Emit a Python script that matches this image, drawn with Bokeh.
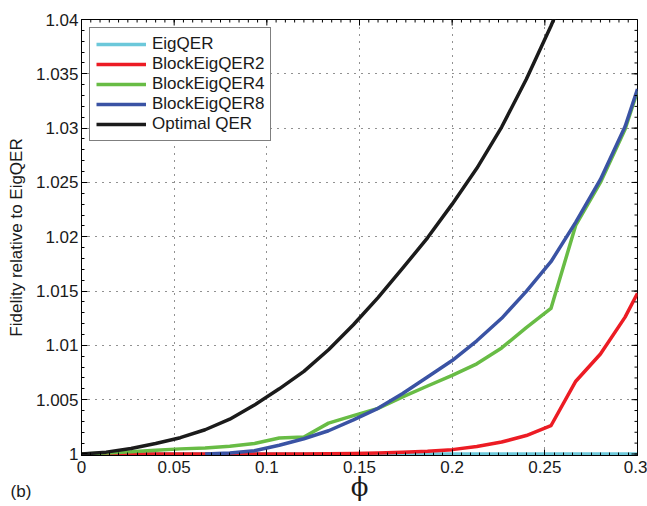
import math
from bokeh.plotting import figure
from bokeh.models import FixedTicker, Legend, LegendItem, Label, Range1d
from bokeh.embed import file_html
from bokeh.resources import INLINE

nan = float("nan")

# ---- data ----
phi = [0.0, 0.0133, 0.0267, 0.04, 0.0533, 0.0667, 0.08, 0.0933, 0.1067, 0.12,
       0.1333, 0.1467, 0.16, 0.1733, 0.1867, 0.2, 0.2133, 0.2267, 0.24, 0.2533,
       0.2667, 0.28, 0.2933, 0.3]

eig_qer = [1.0] * 24

block2 = [1.0, 1.0, 1.0, 1.0, 1.0, 1.0, 1.0, 1.0, 1.0, 1.0,
          1.00002, 1.00005, 1.0001, 1.00016, 1.00025, 1.0004, 1.00068, 1.0011, 1.0017, 1.0026,
          1.0067, 1.0092, 1.0126, 1.0148]

block4 = [1.0, 1.0001, 1.0002, 1.00035, 1.00047, 1.00056, 1.00071, 1.00096, 1.00147, 1.00157,
          1.00284, 1.00353, 1.0042, 1.00526, 1.00626, 1.00724, 1.0083, 1.00976, 1.01163, 1.0134,
          1.02107, 1.0250, 1.0299, 1.0334]

block8 = [nan, nan, nan, nan, nan, 1.0, 1.0001, 1.0003, 1.0008, 1.0014,
          1.00214, 1.00314, 1.0042, 1.00557, 1.00708, 1.0086, 1.01042, 1.01249, 1.01497, 1.0177,
          1.02134, 1.02528, 1.03014, 1.0336]

optimal = [1.0, 1.00017, 1.0005, 1.00096, 1.0015, 1.00223, 1.0032, 1.0045, 1.0060, 1.0076,
           1.0096, 1.0119, 1.0144, 1.0171, 1.0199, 1.0230, 1.0263, 1.0301, 1.0345, 1.0394,
           1.0449, nan, nan, nan]

series_names = ["EigQER", "BlockEigQER2", "BlockEigQER4", "BlockEigQER8", "Optimal QER"]
series_colors = ["#6cc8da", "#ec1c24", "#68bc45", "#3a53a4", "#1b1b1b"]

x_ticks = [0.0, 0.05, 0.1, 0.15, 0.2, 0.25, 0.3]
x_tick_labels = ["0", "0.05", "0.1", "0.15", "0.2", "0.25", "0.3"]
y_ticks = [1.0, 1.005, 1.01, 1.015, 1.02, 1.025, 1.03, 1.035, 1.04]
y_tick_labels = ["1", "1.005", "1.01", "1.015", "1.02", "1.025", "1.03", "1.035", "1.04"]

FONT = "Liberation Sans"
TXT = "#1a1a1a"
X0, X1 = 0.0, 0.3
Y0, Y1 = 0.99986, 1.04   # tiny pad below 1 so lines at 1.0 show their full width

x_minor = [i * 0.005 for i in range(61)]
y_minor = [1.0 + i * 0.001 for i in range(41)]
xticker = FixedTicker(ticks=x_ticks, minor_ticks=x_minor)
yticker = FixedTicker(ticks=y_ticks, minor_ticks=y_minor)

p = figure(width=647, height=506, x_range=Range1d(X0, X1), y_range=Range1d(Y0, Y1),
           output_backend="svg", toolbar_location=None,
           min_border_left=81, min_border_right=10, min_border_top=15, min_border_bottom=51)
p.outline_line_color = "black"
p.outline_line_width = 1
p.background_fill_color = "white"

# grids
for g, t in ((p.xgrid, xticker), (p.ygrid, yticker)):
    g.ticker = t
    g.grid_line_color = "#222222"
    g.grid_line_dash = "1 6"
    g.grid_line_width = 1

def style_axis(ax):
    ax.axis_line_color = "black"
    ax.axis_line_width = 1
    ax.major_tick_in = 6
    ax.major_tick_out = 0
    ax.minor_tick_in = 3
    ax.minor_tick_out = 0
    ax.major_tick_line_color = "black"
    ax.minor_tick_line_color = "black"
    ax.major_label_text_font = FONT
    ax.major_label_text_font_size = "17px"
    ax.major_label_text_color = TXT

# bottom axis
xa = p.xaxis[0]
xa.ticker = xticker
xa.major_label_overrides = {t: l for t, l in zip(x_ticks, x_tick_labels)}
style_axis(xa)
xa.major_label_standoff = 5
xa.axis_label = "\u03d5"
xa.axis_label_text_font = "DejaVu Serif"
xa.axis_label_text_font_size = "26px"
xa.axis_label_text_font_style = "normal"
xa.axis_label_text_color = TXT
xa.axis_label_standoff = -4

# left axis
ya = p.yaxis[0]
ya.ticker = yticker
ya.major_label_overrides = {t: l for t, l in zip(y_ticks, y_tick_labels)}
style_axis(ya)
ya.major_label_standoff = 3
ya.axis_label = "Fidelity relative to EigQER"
ya.axis_label_text_font = FONT
ya.axis_label_text_font_size = "17px"
ya.axis_label_text_font_style = "normal"
ya.axis_label_text_color = TXT
ya.axis_label_standoff = 7

# lines
all_series = [eig_qer, block2, block4, block8, optimal]
items = []
for name, col, ys in zip(series_names, series_colors, all_series):
    r = p.line(phi, ys, line_color=col, line_width=3.5, line_join="round")
    items.append(LegendItem(label=name, renderers=[r]))

# inward ticks on the top and right edges of the box
p.ray(x=x_ticks, y=[Y1] * len(x_ticks), length=6, length_units="screen",
      angle=-math.pi / 2, line_color="black", line_width=1)
p.ray(x=x_minor, y=[Y1] * len(x_minor), length=3, length_units="screen",
      angle=-math.pi / 2, line_color="black", line_width=1)
p.ray(x=[X1] * len(y_ticks), y=y_ticks, length=6, length_units="screen",
      angle=math.pi, line_color="black", line_width=1)
p.ray(x=[X1] * len(y_minor), y=y_minor, length=3, length_units="screen",
      angle=math.pi, line_color="black", line_width=1)

legend = Legend(items=items, location="top_left", margin=8, padding=6, spacing=0,
                label_height=20, glyph_height=20, glyph_width=50, label_standoff=6,
                border_line_color="black", border_line_width=1.5,
                background_fill_color="white", background_fill_alpha=1.0,
                label_text_font=FONT, label_text_font_size="17px", label_text_color=TXT)
p.add_layout(legend)

# panel tag (kept in a side panel so it is not clipped to the frame)
p.add_layout(Label(x=-0.03264, y=0.99653, text="(b)", text_font=FONT,
                   text_font_size="17px", text_color=TXT, text_align="center",
                   text_baseline="middle"), "above")

open("out.html", "w").write(file_html(p, INLINE))
